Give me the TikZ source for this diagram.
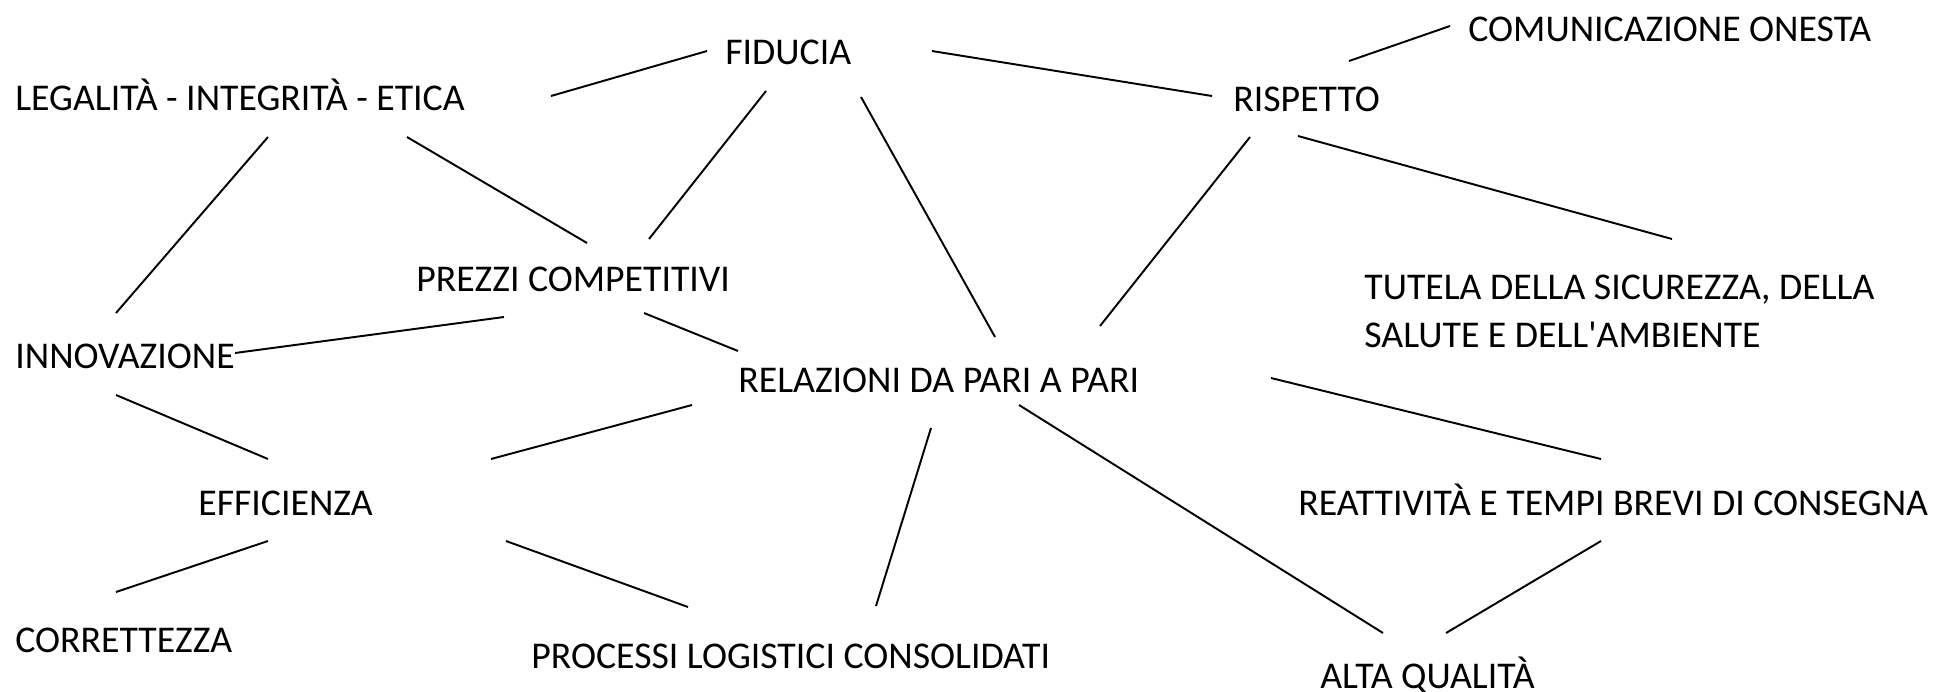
\documentclass[tikz,border=0pt]{standalone}
\usepackage{fontspec}
\setmainfont{Carlito}
\usetikzlibrary{positioning}

\tikzset{
  voce/.style={anchor=base west, inner sep=0pt, font=\fontsize{21.5}{27.3}\selectfont},
  legame/.style={line width=1.1pt}
}

\begin{document}
\begin{tikzpicture}[x=0.02cm,y=-0.02cm]
\useasboundingbox (0,0) rectangle (1940,691);

\node[voce] (fiducia) at (725,64) {FIDUCIA};
\node[voce] (legalita) at (15,110) {LEGALITÀ - INTEGRITÀ - ETICA};
\node[voce] (rispetto) at (1233,111) {RISPETTO};
\node[voce] (comunicazione) at (1468,41) {COMUNICAZIONE ONESTA};
\node[voce] (prezzi) at (416,291) {PREZZI COMPETITIVI};
\node[voce, anchor=north west, align=left] (tutela) at (1364,275) {TUTELA DELLA SICUREZZA, DELLA\\SALUTE E DELL\textquotesingle AMBIENTE};
\node[voce] (innovazione) at (15,368) {INNOVAZIONE};
\node[voce] (relazioni) at (738,392) {RELAZIONI DA PARI A PARI};
\node[voce] (efficienza) at (198,515) {EFFICIENZA};
\node[voce] (reattivita) at (1298,515) {REATTIVITÀ E TEMPI BREVI DI CONSEGNA};
\node[voce] (correttezza) at (15,652) {CORRETTEZZA};
\node[voce] (processi) at (531,668) {PROCESSI LOGISTICI CONSOLIDATI};
\node[voce] (alta) at (1320,688) {ALTA QUALITÀ};

% estremi dei legami
\coordinate (leg-fid) at (551,96);   \coordinate (fid-leg) at (707,51);
\coordinate (fid-ris) at (932,51);   \coordinate (ris-fid) at (1212,96);
\coordinate (ris-com) at (1349,61);  \coordinate (com-ris) at (1450,26);
\coordinate (leg-inn) at (268,137);  \coordinate (inn-leg) at (116,313);
\coordinate (leg-pre) at (407,137);  \coordinate (pre-leg) at (587,243);
\coordinate (fid-pre) at (766,91);   \coordinate (pre-fid) at (649,239);
\coordinate (fid-rel) at (861,97);   \coordinate (rel-fid) at (995,337);
\coordinate (ris-rel) at (1250,137); \coordinate (rel-ris) at (1100,326);
\coordinate (ris-tut) at (1298,136); \coordinate (tut-ris) at (1672,239);
\coordinate (pre-inn) at (504,317);  \coordinate (inn-pre) at (235,353);
\coordinate (pre-rel) at (644,313);  \coordinate (rel-pre) at (738,351);
\coordinate (inn-eff) at (116,395);  \coordinate (eff-inn) at (268,459);
\coordinate (rel-eff) at (692,405);  \coordinate (eff-rel) at (491,459);
\coordinate (rel-rea) at (1271,378); \coordinate (rea-rel) at (1601,459);
\coordinate (eff-cor) at (268,541);  \coordinate (cor-eff) at (116,592);
\coordinate (eff-pro) at (506,541);  \coordinate (pro-eff) at (688,607);
\coordinate (rel-pro) at (931,428);  \coordinate (pro-rel) at (876,606);
\coordinate (rel-alt) at (1019,405); \coordinate (alt-rel) at (1383,633);
\coordinate (rea-alt) at (1601,541); \coordinate (alt-rea) at (1446,633);

\draw[legame] (leg-fid) -- (fid-leg);
\draw[legame] (fid-ris) -- (ris-fid);
\draw[legame] (ris-com) -- (com-ris);
\draw[legame] (leg-inn) -- (inn-leg);
\draw[legame] (leg-pre) -- (pre-leg);
\draw[legame] (fid-pre) -- (pre-fid);
\draw[legame] (fid-rel) -- (rel-fid);
\draw[legame] (ris-rel) -- (rel-ris);
\draw[legame] (ris-tut) -- (tut-ris);
\draw[legame] (pre-inn) -- (inn-pre);
\draw[legame] (pre-rel) -- (rel-pre);
\draw[legame] (inn-eff) -- (eff-inn);
\draw[legame] (rel-eff) -- (eff-rel);
\draw[legame] (rel-rea) -- (rea-rel);
\draw[legame] (eff-cor) -- (cor-eff);
\draw[legame] (eff-pro) -- (pro-eff);
\draw[legame] (rel-pro) -- (pro-rel);
\draw[legame] (rel-alt) -- (alt-rel);
\draw[legame] (rea-alt) -- (alt-rea);
\end{tikzpicture}
\end{document}
